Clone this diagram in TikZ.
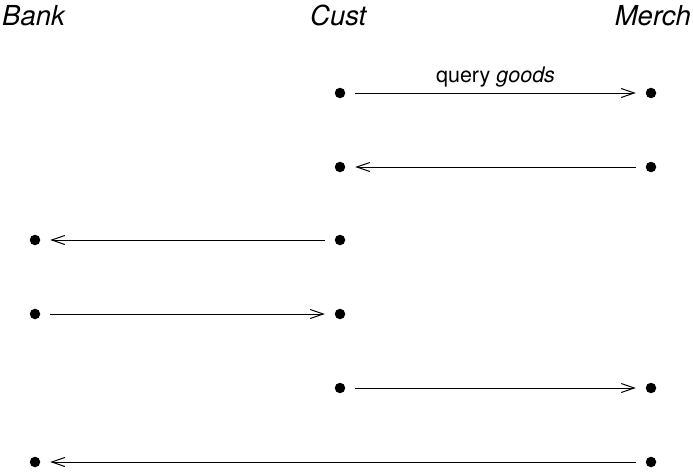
\documentclass[tikz,border=0pt]{standalone}
\usepackage{fontspec}
\setmainfont{TeX Gyre Heros}
\usetikzlibrary{arrows.meta}
\begin{document}
\begin{tikzpicture}[x=1pt,y=-1pt,
  dot/.style={circle,fill=black,inner sep=0pt,minimum size=10.5pt,outer sep=0pt},
  msg/.style={line width=1pt,-{Straight Barb[length=13pt,width=9pt,line width=1pt]},
              shorten <=10pt,shorten >=10pt},
  role/.style={font=\fontsize{27.5}{31}\selectfont\itshape,inner sep=0pt},
  lbl/.style={font=\fontsize{21.5}{25}\selectfont,inner sep=0pt}]
  \useasboundingbox (0,0) rectangle (693,471);
  % participants
  \node[role,anchor=base west] (bank) at (2,25) {Bank};
  \node[role,anchor=base west] (cust) at (310,25) {Cust};
  \node[role,anchor=base east] (merch) at (691,25) {Merch};
  % event points
  \node[dot] (c1) at (340,93) {};
  \node[dot] (m1) at (651,93) {};
  \node[dot] (c2) at (340,167) {};
  \node[dot] (m2) at (651,167) {};
  \node[dot] (b3) at (35,240) {};
  \node[dot] (c3) at (340,240) {};
  \node[dot] (b4) at (35,314) {};
  \node[dot] (c4) at (340,314) {};
  \node[dot] (c5) at (340,388) {};
  \node[dot] (m5) at (651,388) {};
  \node[dot] (b6) at (35,462) {};
  \node[dot] (m6) at (651,462) {};
  % messages
  \draw[msg] (c1) -- node[lbl,midway,anchor=base,yshift=11pt] (q) {query \textit{goods}} (m1);
  \draw[msg] (m2) -- (c2);
  \draw[msg] (c3) -- (b3);
  \draw[msg] (b4) -- (c4);
  \draw[msg] (c5) -- (m5);
  \draw[msg] (m6) -- (b6);
\end{tikzpicture}
\end{document}
